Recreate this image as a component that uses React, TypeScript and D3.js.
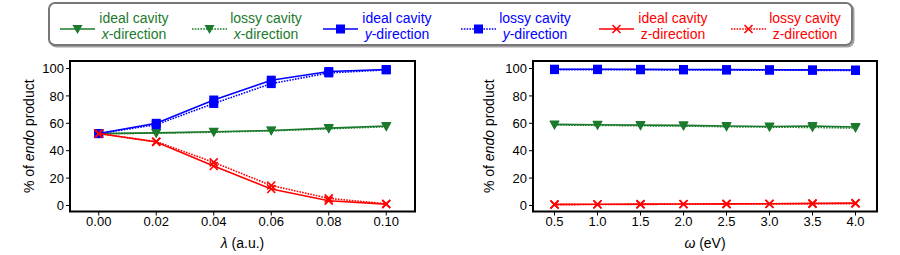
import React from 'react';
import * as d3 from 'd3';

// lambda scan (left panel)
const lambdaVals = [0, 0.02, 0.04, 0.06, 0.08, 0.10];
const idealXLam = [52.5, 53, 53.8, 54.8, 56.5, 58];
const lossyXLam = [52.5, 52.8, 53.5, 54.5, 56, 57.5];
const idealYLam = [52.5, 60, 77, 91.5, 97.8, 99.3];
const lossyYLam = [52.5, 59, 74.5, 89, 96.8, 99];
const idealZLam = [52.5, 46.4, 28.8, 12, 3.5, 1];
const lossyZLam = [52.5, 46.6, 31.5, 14.6, 5.2, 1.2];

// omega scan (right panel)
const omegaVals = [0.5, 1.0, 1.5, 2.0, 2.5, 3.0, 3.5, 4.0];
const idealXOm = [59.2, 59, 58.7, 58.5, 58, 57.7, 58, 57.3];
const lossyXOm = [58.8, 58.5, 58.2, 58, 57.5, 57.2, 57, 56.5];
const idealYOm = [99.5, 99.5, 99.4, 99.3, 99.2, 99.1, 99, 98.9];
const lossyYOm = [99.2, 99.2, 99.1, 99, 98.9, 98.8, 98.7, 98.6];
const idealZOm = [0.8, 0.9, 1, 1.1, 1.2, 1.3, 1.5, 1.7];
const lossyZOm = [0.6, 0.7, 0.8, 0.9, 1, 1.1, 1.2, 1.4];

const yTicks = [0, 20, 40, 60, 80, 100];
const lambdaTicks = [0, 0.02, 0.04, 0.06, 0.08, 0.10];
const omegaTicks = [0.5, 1.0, 1.5, 2.0, 2.5, 3.0, 3.5, 4.0];

const GREEN = '#1b7a2c';
const BLUE = '#0000ff';
const RED = '#ff0000';
const FONT = 'Liberation Sans, Arial, sans-serif';

type Mk = 'tri' | 'sq' | 'x';

function Marker({ kind, x, y, color }: { kind: Mk; x: number; y: number; color: string }) {
  if (kind === 'sq') return <rect x={x - 4.5} y={y - 4.5} width={9} height={9} fill={color} />;
  if (kind === 'tri')
    return <path d={`M${x - 5},${y - 4} L${x + 5},${y - 4} L${x},${y + 5} Z`} fill={color} />;
  return (
    <path d={`M${x - 4},${y - 4} L${x + 4},${y + 4} M${x - 4},${y + 4} L${x + 4},${y - 4}`}
      stroke={color} strokeWidth={1.6} fill="none" />
  );
}

function Series({ xs, ys, xScale, yScale, color, dashed, kind }: any) {
  const line = d3.line<number>().x((d, i) => xScale(xs[i])).y(d => yScale(d));
  return (
    <g>
      <path d={line(ys) || ''} fill="none" stroke={color} strokeWidth={1.6}
        strokeDasharray={dashed ? '1.6,1.2' : undefined} />
      {ys.map((v: number, i: number) => (
        <Marker key={i} kind={kind} x={xScale(xs[i])} y={yScale(v)} color={color} />
      ))}
    </g>
  );
}

function Panel({ left, right, xs, xDomain, ticks, fmt, sets, xlabelSym, xlabelRest, ylabelX }: any) {
  const top = 61, bottom = 211.5;
  const xScale = d3.scaleLinear().domain(xDomain).range([left, right]);
  const yScale = d3.scaleLinear().domain([-4.4, 105.5]).range([bottom, top]);
  return (
    <g fontFamily={FONT}>
      {sets.map((s: any, i: number) => (
        <Series key={i} xs={xs} ys={s.ys} xScale={xScale} yScale={yScale}
          color={s.color} dashed={s.dashed} kind={s.kind} />
      ))}
      <rect x={left} y={top} width={right - left} height={bottom - top}
        fill="none" stroke="#000" strokeWidth={2} />
      {yTicks.map(t => (
        <g key={t}>
          <line x1={left - 4} x2={left} y1={yScale(t)} y2={yScale(t)} stroke="#000" />
          <text x={left - 6} y={yScale(t)} dy="0.36em" textAnchor="end" fontSize={13}>{t}</text>
        </g>
      ))}
      {ticks.map((t: number) => (
        <g key={t}>
          <line x1={xScale(t)} x2={xScale(t)} y1={bottom} y2={bottom + 4} stroke="#000" />
          <text x={xScale(t)} y={225.5} textAnchor="middle" fontSize={13}>{fmt(t)}</text>
        </g>
      ))}
      <text x={(left + right) / 2} y={248} textAnchor="middle" fontSize={14}>
        <tspan fontStyle="italic">{xlabelSym}</tspan>{xlabelRest}
      </text>
      <text transform={`translate(${ylabelX},${(top + bottom) / 2}) rotate(-90)`}
        textAnchor="middle" fontSize={14}>
        % of <tspan fontStyle="italic">endo</tspan> product
      </text>
    </g>
  );
}

const legendItems = [
  { label: 'ideal cavity', dir: 'x', italic: true, color: GREEN, dashed: false, kind: 'tri' as Mk },
  { label: 'lossy cavity', dir: 'x', italic: true, color: GREEN, dashed: true, kind: 'tri' as Mk },
  { label: 'ideal cavity', dir: 'y', italic: true, color: BLUE, dashed: false, kind: 'sq' as Mk },
  { label: 'lossy cavity', dir: 'y', italic: true, color: BLUE, dashed: true, kind: 'sq' as Mk },
  { label: 'ideal cavity', dir: 'z', italic: false, color: RED, dashed: false, kind: 'x' as Mk },
  { label: 'lossy cavity', dir: 'z', italic: false, color: RED, dashed: true, kind: 'x' as Mk },
];
const legendX = [60, 192, 323, 461, 599, 731];

export default function App() {
  const lamSets = [
    { ys: lossyXLam, color: GREEN, dashed: true, kind: 'tri' },
    { ys: idealXLam, color: GREEN, dashed: false, kind: 'tri' },
    { ys: lossyYLam, color: BLUE, dashed: true, kind: 'sq' },
    { ys: idealYLam, color: BLUE, dashed: false, kind: 'sq' },
    { ys: lossyZLam, color: RED, dashed: true, kind: 'x' },
    { ys: idealZLam, color: RED, dashed: false, kind: 'x' },
  ];
  const omSets = [
    { ys: lossyXOm, color: GREEN, dashed: true, kind: 'tri' },
    { ys: idealXOm, color: GREEN, dashed: false, kind: 'tri' },
    { ys: lossyYOm, color: BLUE, dashed: true, kind: 'sq' },
    { ys: idealYOm, color: BLUE, dashed: false, kind: 'sq' },
    { ys: lossyZOm, color: RED, dashed: true, kind: 'x' },
    { ys: idealZOm, color: RED, dashed: false, kind: 'x' },
  ];
  return (
    <svg width={900} height={255} style={{ position: 'absolute', left: 0, top: 0, background: '#fff' }}>
      <rect x={0} y={0} width={900} height={255} fill="#fff" />
      {/* legend */}
      <rect x={50.5} y={4.5} width={803} height={42} rx={6} fill="none" stroke="#444" strokeWidth={2} opacity={0.5} />
      <rect x={49} y={3} width={803} height={42} rx={6} fill="#fff" stroke="#777" strokeWidth={2} />
      {legendItems.map((it, i) => {
        const x0 = legendX[i];
        const cx = x0 + 74;
        return (
          <g key={i} fontFamily={FONT} fontSize={14} fill={it.color}>
            <line x1={x0} x2={x0 + 35} y1={29} y2={29} stroke={it.color} strokeWidth={1.6}
              strokeDasharray={it.dashed ? '1.6,1.2' : undefined} />
            <Marker kind={it.kind} x={x0 + 17.5} y={29} color={it.color} />
            <text x={cx} y={23} textAnchor="middle">{it.label}</text>
            <text x={cx} y={38.5} textAnchor="middle">
              <tspan fontStyle={it.italic ? 'italic' : 'normal'}>{it.dir}</tspan>-direction
            </text>
          </g>
        );
      })}
      <Panel left={70} right={415} xs={lambdaVals} xDomain={[-0.01, 0.11]} ticks={lambdaTicks}
        fmt={(t: number) => t.toFixed(2)} sets={lamSets} xlabelSym="λ" xlabelRest=" (a.u.)" ylabelX={34} />
      <Panel left={533} right={877} xs={omegaVals} xDomain={[0.25, 4.25]} ticks={omegaTicks}
        fmt={(t: number) => t.toFixed(1)} sets={omSets} xlabelSym="ω" xlabelRest=" (eV)" ylabelX={494} />
    </svg>
  );
}
